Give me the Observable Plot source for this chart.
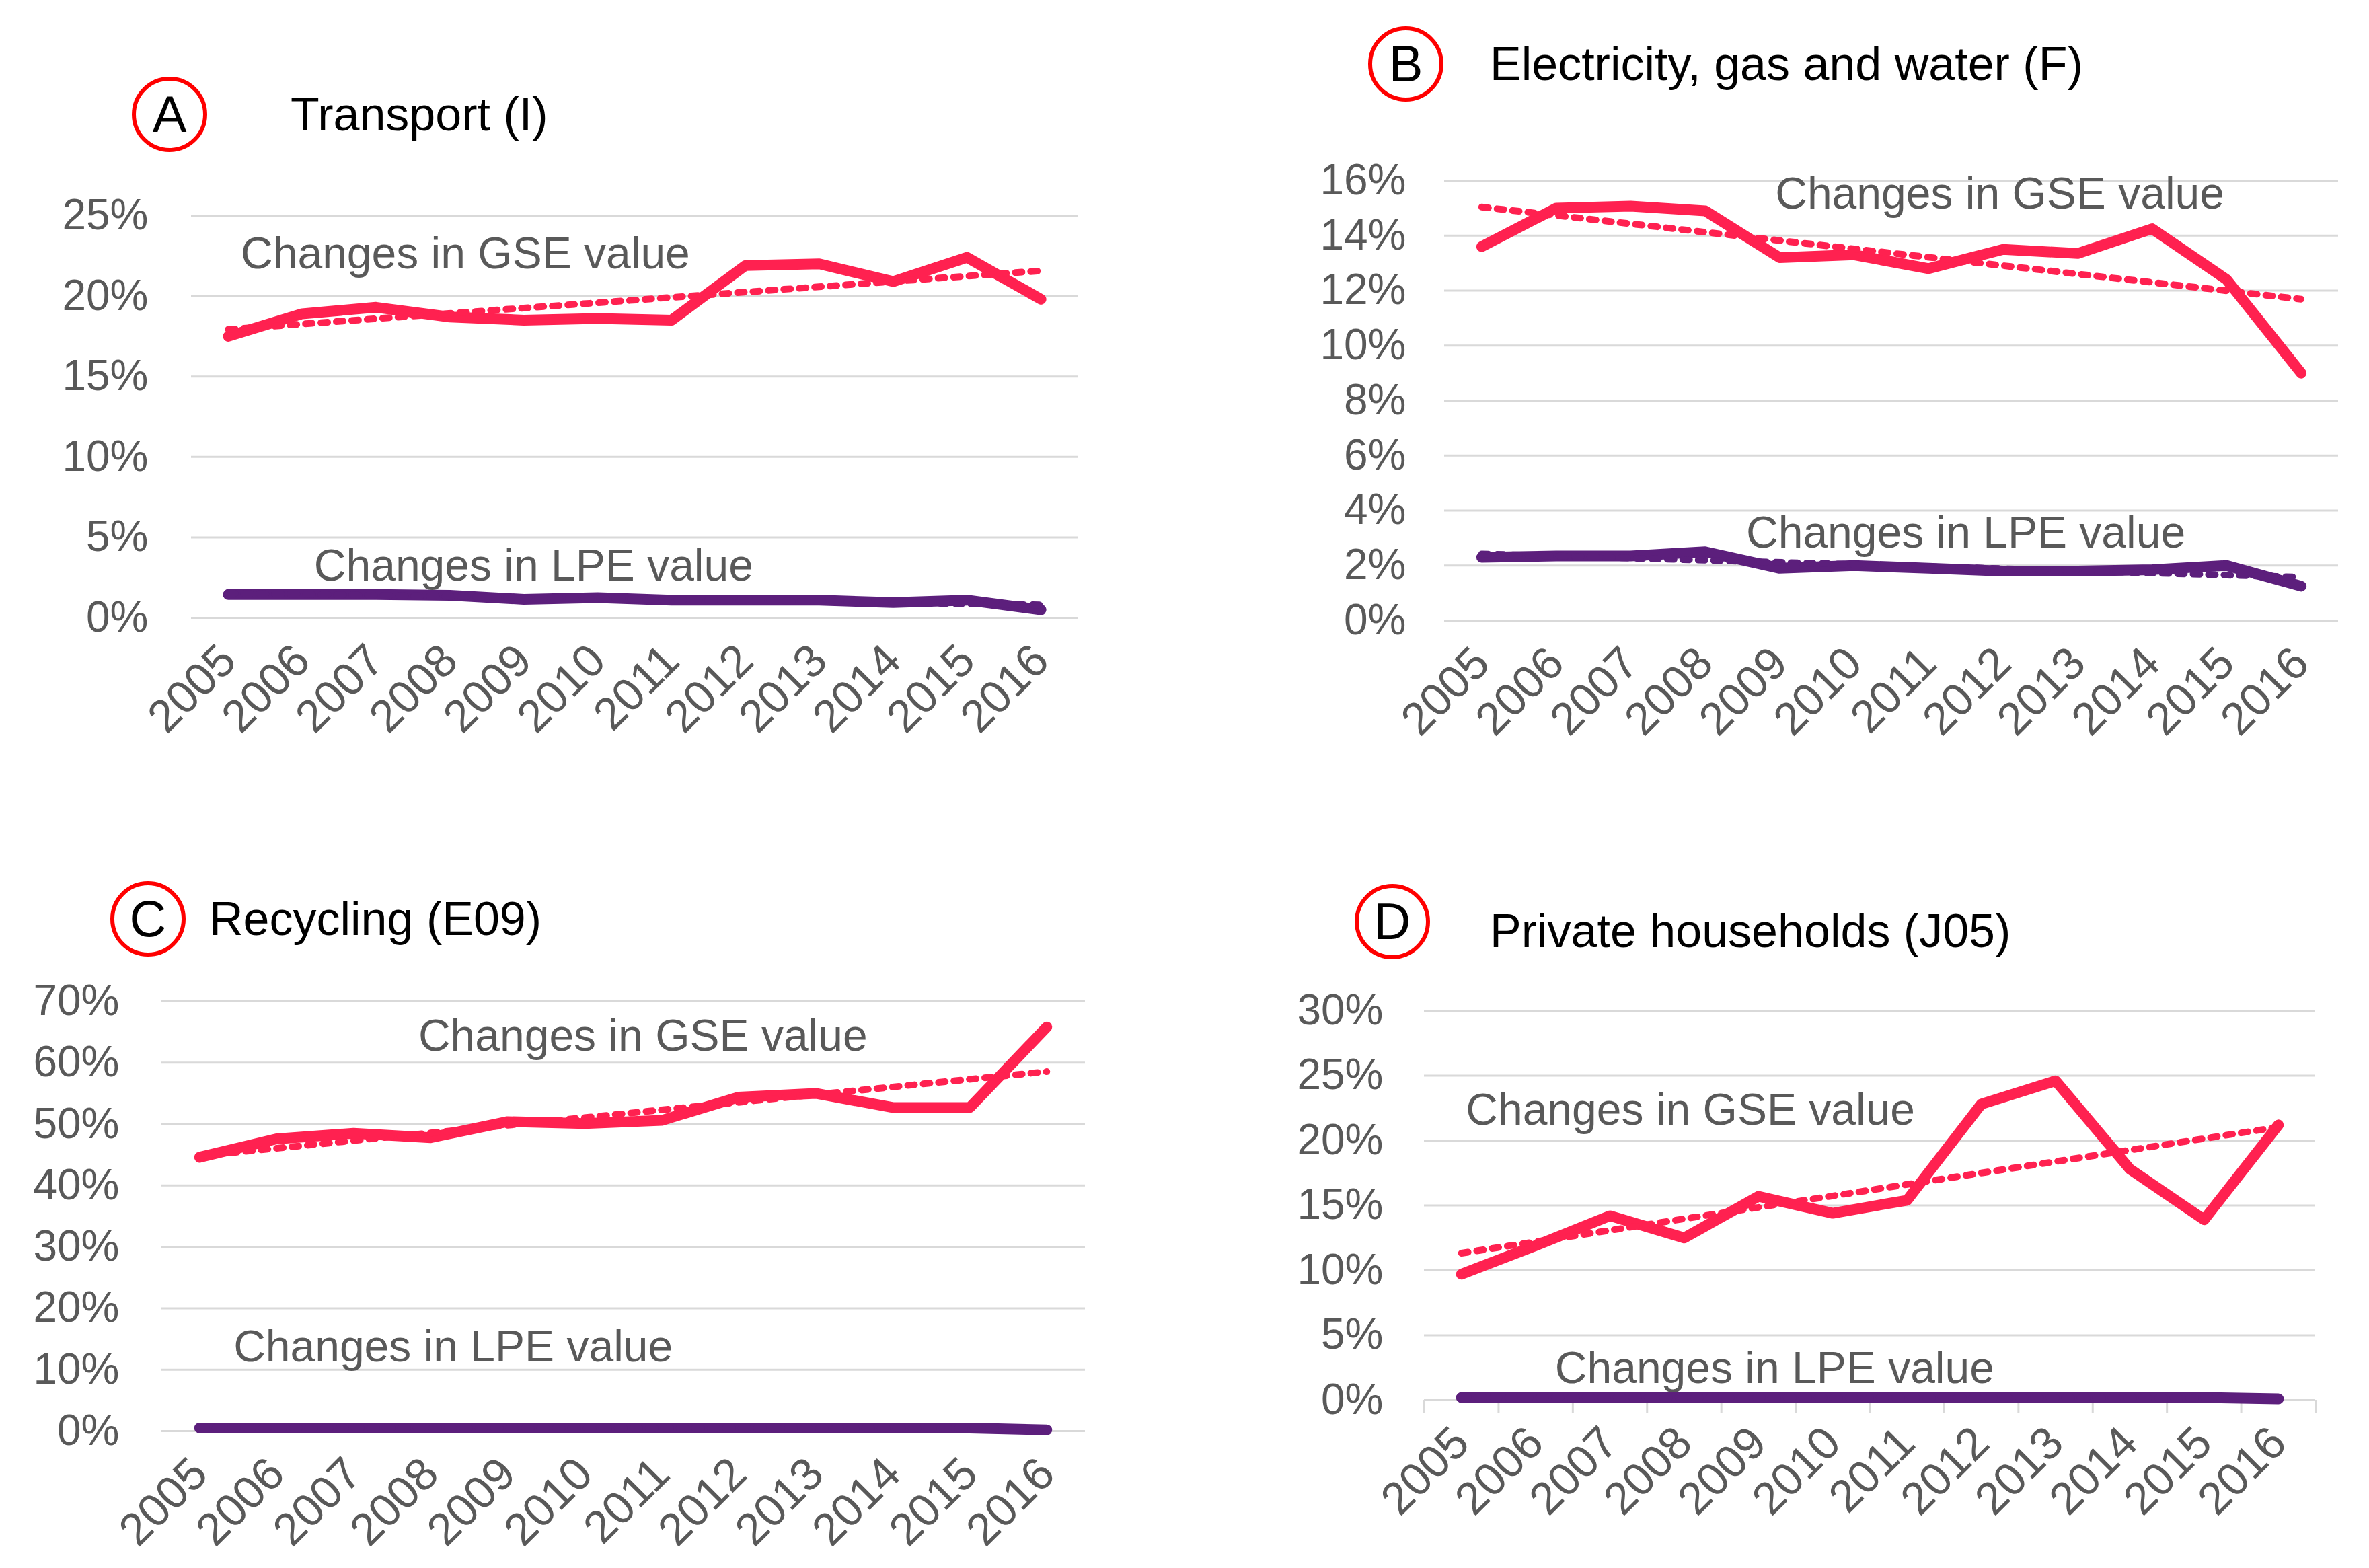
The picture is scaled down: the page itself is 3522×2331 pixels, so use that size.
<!DOCTYPE html>
<html>
<head>
<meta charset="utf-8">
<script src="https://cdn.jsdelivr.net/npm/d3@7"></script>
<script src="https://cdn.jsdelivr.net/npm/@observablehq/plot@0.6"></script>
<style>
  html, body { margin: 0; padding: 0; background: #fff; }
  #page { position: relative; width: 3522px; height: 2331px; background: #fff; overflow: hidden;
          font-family: "Liberation Sans", Arial, sans-serif; }
  .panel { position: absolute; }
  .badge { position: absolute; box-sizing: border-box; width: 112px; height: 112px; border: 6px solid #ff0000;
           border-radius: 50%; display: flex; align-items: center; justify-content: center;
           font-size: 76px; color: #000; line-height: 1; }
  .title { position: absolute; font-size: 70px; color: #000; line-height: 1; transform: translateY(-50%); white-space: nowrap; }
</style>
</head>
<body>
<div id="page"></div>
<script>
// ---------- data ----------
const years = [2005, 2006, 2007, 2008, 2009, 2010, 2011, 2012, 2013, 2014, 2015, 2016];

// A: Transport (I)
const gseA = [17.5, 18.9, 19.3, 18.7, 18.5, 18.6, 18.5, 21.9, 22.0, 20.9, 22.4, 19.8];
const lpeA = [1.45, 1.45, 1.45, 1.4, 1.15, 1.25, 1.1, 1.1, 1.1, 0.95, 1.1, 0.5];
const ticksA = [0, 5, 10, 15, 20, 25];

// B: Electricity, gas and water (F)
const gseB = [13.6, 15.0, 15.07, 14.9, 13.2, 13.3, 12.8, 13.5, 13.35, 14.25, 12.4, 9.0];
const lpeB = [2.3, 2.35, 2.35, 2.5, 1.9, 2.0, 1.9, 1.8, 1.8, 1.85, 2.0, 1.25];
const ticksB = [0, 2, 4, 6, 8, 10, 12, 14, 16];

// C: Recycling (E09)
const gseC = [44.6, 47.6, 48.5, 47.8, 50.4, 50.1, 50.6, 54.4, 55.0, 52.7, 52.7, 65.8];
const lpeC = [0.5, 0.5, 0.5, 0.5, 0.5, 0.5, 0.5, 0.5, 0.5, 0.5, 0.5, 0.2];
const ticksC = [0, 10, 20, 30, 40, 50, 60, 70];

// D: Private households (J05)
const gseD = [9.7, 11.9, 14.2, 12.5, 15.7, 14.4, 15.4, 22.8, 24.6, 17.8, 13.9, 21.2];
const lpeD = [0.2, 0.2, 0.2, 0.2, 0.2, 0.2, 0.2, 0.2, 0.2, 0.2, 0.2, 0.1];
const ticksD = [0, 5, 10, 15, 20, 25, 30];

const letters = ["A", "B", "C", "D"];
const titles = ["Transport (I)", "Electricity, gas and water (F)", "Recycling (E09)", "Private households (J05)"];
const gseLabel = "Changes in GSE value";
const lpeLabel = "Changes in LPE value";

// ---------- styling / layout ----------
const RED = "#ff2150";
const PURPLE = "#5c1f7c";
const GRID = "#d9d9d9";
const TEXT = "#595959";
const FONT = "'Liberation Sans', Arial, sans-serif";

const panels = [
  { gse: gseA, lpe: lpeA, ticks: ticksA, left: 0, top: 230, width: 1660, height: 950,
    mL: 284, mR: 58, mT: 90, mB: 262, pad: 64,
    gsePos: [2005.17, 22.6], lpePos: [2006.16, 3.2],
    badge: [252, 170], titleAt: [432, 170], axisTicks: false },
  { gse: gseB, lpe: lpeB, ticks: ticksB, left: 1760, top: 180, width: 1762, height: 1000,
    mL: 387, mR: 46, mT: 88, mB: 258, pad: 57,
    gsePos: [2008.94, 15.5], lpePos: [2008.55, 3.17],
    badge: [2090, 95], titleAt: [2215, 95], axisTicks: false },
  { gse: gseC, lpe: lpeC, ticks: ticksC, left: 0, top: 1400, width: 1700, height: 931,
    mL: 239, mR: 87, mT: 88, mB: 204, pad: 62,
    gsePos: [2007.84, 64.3], lpePos: [2005.44, 13.7],
    badge: [220, 1366], titleAt: [311, 1366], axisTicks: false },
  { gse: gseD, lpe: lpeD, ticks: ticksD, left: 1760, top: 1410, width: 1762, height: 921,
    mL: 357, mR: 80, mT: 92, mB: 250, pad: 61,
    gsePos: [2005.06, 22.3], lpePos: [2006.26, 2.4],
    badge: [2070, 1370], titleAt: [2215, 1384], axisTicks: true }
];

const page = document.getElementById("page");

panels.forEach((p, i) => {
  const gseRows = years.map((yr, k) => ({ year: yr, v: p.gse[k] }));
  const lpeRows = years.map((yr, k) => ({ year: yr, v: p.lpe[k] }));
  const ymax = p.ticks[p.ticks.length - 1];
  const bounds = years.map(y => y - 0.5).concat([years[years.length - 1] + 0.5]);

  const marks = [
    Plot.gridY(p.ticks, { stroke: GRID, strokeOpacity: 1, strokeWidth: 3 }),
    Plot.axisY(p.ticks, { tickSize: 0, tickPadding: p.pad, tickFormat: d => d + "%", fontSize: 64, fill: TEXT, label: null }),
  ];
  if (p.axisTicks) {
    marks.push(Plot.ruleY([0], { stroke: GRID, strokeWidth: 3 }));
    marks.push(Plot.axisX(bounds, { tickSize: 20, stroke: GRID, strokeWidth: 3, strokeOpacity: 1, tickFormat: () => "", label: null }));
  }
  marks.push(
    Plot.axisX(years, { tickSize: 0, tickPadding: 52, tickRotate: -45, tickFormat: d => String(d), fontSize: 68, fill: TEXT, label: null }),
    Plot.lineY(lpeRows, { x: "year", y: "v", stroke: PURPLE, strokeWidth: 16, strokeLinejoin: "round", strokeLinecap: "round" }),
    Plot.linearRegressionY(lpeRows, { x: "year", y: "v", stroke: PURPLE, strokeWidth: 10, strokeDasharray: "10,13", ci: 0 }),
    Plot.lineY(gseRows, { x: "year", y: "v", stroke: RED, strokeWidth: 16, strokeLinejoin: "round", strokeLinecap: "round" }),
    Plot.linearRegressionY(gseRows, { x: "year", y: "v", stroke: RED, strokeWidth: 10, strokeDasharray: "10,13", ci: 0 }),
    Plot.text([gseLabel], { x: () => p.gsePos[0], y: () => p.gsePos[1], text: d => d, textAnchor: "start", lineAnchor: "middle", fontSize: 66, fill: TEXT }),
    Plot.text([lpeLabel], { x: () => p.lpePos[0], y: () => p.lpePos[1], text: d => d, textAnchor: "start", lineAnchor: "middle", fontSize: 66, fill: TEXT })
  );

  const chart = Plot.plot({
    width: p.width, height: p.height,
    marginLeft: p.mL, marginRight: p.mR, marginTop: p.mT, marginBottom: p.mB,
    x: { type: "linear", domain: [2004.5, 2016.5], label: null },
    y: { domain: [0, ymax], label: null },
    style: { fontFamily: FONT, color: TEXT, background: "transparent", overflow: "visible" },
    marks
  });
  const wrap = document.createElement("div");
  wrap.className = "panel";
  wrap.style.left = p.left + "px";
  wrap.style.top = p.top + "px";
  wrap.appendChild(chart);
  page.appendChild(wrap);

  const b = document.createElement("div");
  b.className = "badge";
  b.textContent = letters[i];
  b.style.left = (p.badge[0] - 56) + "px";
  b.style.top = (p.badge[1] - 56) + "px";
  page.appendChild(b);

  const t = document.createElement("div");
  t.className = "title";
  t.textContent = titles[i];
  t.style.left = p.titleAt[0] + "px";
  t.style.top = p.titleAt[1] + "px";
  page.appendChild(t);
});
</script>
</body>
</html>
